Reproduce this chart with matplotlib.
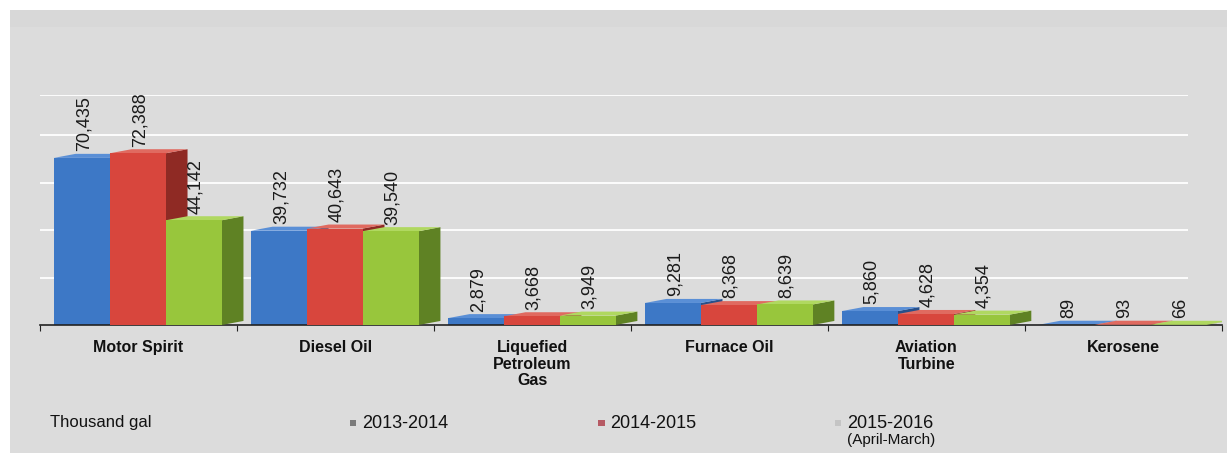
import matplotlib.pyplot as plt
from matplotlib.patches import Polygon, Rectangle
import numpy as np

plt.rcParams['font.family'] = ['Liberation Sans', 'DejaVu Sans']

categories = ["Motor Spirit", "Diesel Oil", "Liquefied\nPetroleum\nGas",
              "Furnace Oil", "Aviation\nTurbine", "Kerosene"]
series_names = ["2013-2014", "2014-2015", "2015-2016\n(April-March)"]
v_2013 = [70435, 39732, 2879, 9281, 5860, 89]
v_2014 = [72388, 40643, 3668, 8368, 4628, 93]
v_2015 = [44142, 39540, 3949, 8639, 4354, 66]
grid_values = [20000, 40000, 60000, 80000, 97000]

front_colors = ["#3d78c6", "#d8463d", "#98c63c"]
side_colors = ["#27508a", "#8f2a24", "#5f8224"]
top_colors = ["#5a8fd6", "#e06a60", "#b0d860"]
legend_colors = ["#7a7a7a", "#b65a64", "#c4c4c4"]

fig = plt.figure(figsize=(12.31, 4.53), dpi=100)
fig.patch.set_facecolor("white")
fig.patches.append(Rectangle((0.008, 0.0), 0.989, 0.978, transform=fig.transFigure,
                             facecolor="#dcdcdc", edgecolor="none", zorder=-5))
fig.patches.append(Rectangle((0.008, 0.94), 0.989, 0.038, transform=fig.transFigure,
                             facecolor="#d8d8d8", edgecolor="none", zorder=-4))

ax = fig.add_axes([0.0325, 0.2826, 0.960, 0.508])
ax.set_facecolor("none")
ax.set_xlim(0, len(categories))
ax.set_ylim(0, 97000)

for s in ["left", "right", "top"]:
    ax.spines[s].set_visible(False)
ax.spines["bottom"].set_color("#222222")
ax.spines["bottom"].set_linewidth(1.2)

ax.set_yticks([])
# white gridlines stop short of the right end, like the back wall of the 3D chart
ax.hlines(grid_values, 0, 5.83, colors="white", linewidth=1.3, zorder=0)

ax.set_xticks(np.arange(len(categories) + 1))
ax.set_xticklabels([])
ax.tick_params(axis="x", direction="out", length=4, color="#222222")

w = 0.284
x_off = 0.071
depth_x = 0.11
rise = 1700
all_vals = [v_2013, v_2014, v_2015]
for si, vals in enumerate(all_vals):
    for ci, v in enumerate(vals):
        x0 = ci + x_off + si * w
        side = Polygon([(x0 + w, 0), (x0 + w + depth_x, rise),
                        (x0 + w + depth_x, v + rise), (x0 + w, v)],
                       closed=True, facecolor=side_colors[si], edgecolor="none", zorder=2 + si)
        ax.add_patch(side)
        top = Polygon([(x0, v), (x0 + depth_x, v + rise),
                       (x0 + w + depth_x, v + rise), (x0 + w, v)],
                      closed=True, facecolor=top_colors[si], edgecolor="none", zorder=2 + si)
        ax.add_patch(top)
        ax.bar(x0, v, width=w, align="edge", color=front_colors[si], zorder=2 + si)
        ax.text(x0 + w / 2 + 0.01, v + 2800, f"{v:,}", rotation=90, ha="center", va="bottom",
                fontsize=13, color="#1a1a1a", zorder=10)

for ci, name in enumerate(categories):
    ax.text(ci + 0.5, -6500, name, ha="center", va="top", fontsize=11.5,
            fontweight="bold", color="#111111", linespacing=1.1)

# legend row
fig.text(0.041, 0.068, "Thousand gal", fontsize=12, color="#111111", va="center")
leg_x = [0.284, 0.486, 0.678]
for i, name in enumerate(series_names):
    fig.patches.append(Rectangle((leg_x[i], 0.060), 0.0055, 0.013, transform=fig.transFigure,
                                 facecolor=legend_colors[i], edgecolor="none"))
    if i == 2:
        fig.text(leg_x[i] + 0.010, 0.084, "2015-2016", fontsize=13, color="#111111", va="top")
        fig.text(leg_x[i] + 0.010, 0.044, "(April-March)", fontsize=11, color="#111111", va="top")
    else:
        fig.text(leg_x[i] + 0.010, 0.066, name, fontsize=13, color="#111111", va="center")

fig.savefig("out.png", dpi=100, facecolor=fig.get_facecolor())
